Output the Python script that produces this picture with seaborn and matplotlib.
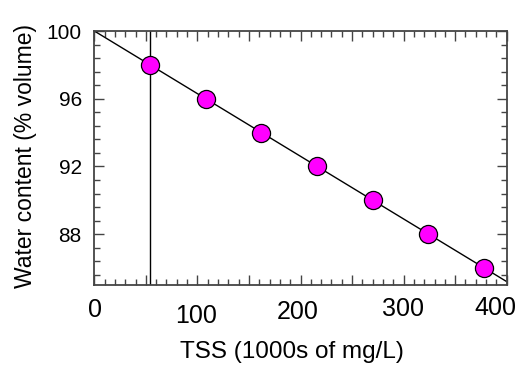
import matplotlib
matplotlib.use("Agg")
import matplotlib.pyplot as plt
import matplotlib.transforms as mtrans
from matplotlib.ticker import MultipleLocator
import seaborn as sns
import pandas as pd

# data
tss = [54, 108, 162, 216, 270, 324, 378]
water = [98, 96, 94, 92, 90, 88, 86]
fit_x = [0, 400]
fit_y = [100, 85.2]
vline_x = 54
xtick_vals = [0, 50, 100, 150, 200, 250, 300, 350, 400]
xtick_labels = ["0", "", "100", "", "200", "", "300", "", "400"]
ytick_vals = [88, 92, 96, 100]
ytick_labels = ["88", "92", "96", "100"]

sns.set_style("ticks")
plt.rcParams['font.family'] = ['Liberation Sans', 'DejaVu Sans']
plt.rcParams['text.color'] = 'black'
plt.rcParams['axes.labelcolor'] = 'black'
plt.rcParams['xtick.labelcolor'] = 'black'
plt.rcParams['ytick.labelcolor'] = 'black'

fig = plt.figure(figsize=(5.22, 3.66), dpi=100)
ax = fig.add_axes([0.1807, 0.2213, 0.79, 0.694])

df = pd.DataFrame({"tss": tss, "water": water})
fit = pd.DataFrame({"x": fit_x, "y": fit_y})

sns.lineplot(data=fit, x="x", y="y", color="black", linewidth=1.0, ax=ax, zorder=2)
ax.axvline(vline_x, color="black", linewidth=1.0, zorder=2)
sns.scatterplot(data=df, x="tss", y="water", s=170, color="#FF00FF",
                edgecolor="black", linewidth=0.9, ax=ax, zorder=3)

ax.set_xlim(0, 400)
ax.set_ylim(85, 100)
ax.set_xticks(xtick_vals)
ax.set_xticklabels(xtick_labels)
ax.set_yticks(ytick_vals)
ax.set_yticklabels(ytick_labels)
ax.xaxis.set_minor_locator(MultipleLocator(10))
ax.yaxis.set_minor_locator(MultipleLocator(0.8))

ax.tick_params(which="both", direction="in", top=True, right=True,
               color="#444444", width=1.0)
ax.tick_params(which="major", length=7)
ax.tick_params(which="minor", length=4)
ax.tick_params(axis="x", which="major", pad=9.5, labelsize=18)
ax.tick_params(axis="y", which="major", pad=9, labelsize=15)

for sp in ax.spines.values():
    sp.set_color("#444444")
    sp.set_linewidth(1.3)

ax.set_xlabel("TSS (1000s of mg/L)", fontsize=17.5)
ax.set_ylabel("Water content (% volume)", fontsize=16.5)
ax.xaxis.set_label_coords(0.479, -0.222)
ax.yaxis.set_label_coords(-0.139, 0.508)

# staggered tick labels as in the original (pixel offsets)
offsets = {0: (0.7, 0), 2: (-1.5, -5.7), 4: (-2.8, -1.7), 6: (-0.8, 1.0), 8: (-10.9, 2.0)}
labels = ax.get_xticklabels()
for i, (dx, dy) in offsets.items():
    lab = labels[i]
    lab.set_transform(lab.get_transform() + mtrans.ScaledTranslation(dx / 100, dy / 100, fig.dpi_scale_trans))

fig.savefig("out.png", dpi=100)
